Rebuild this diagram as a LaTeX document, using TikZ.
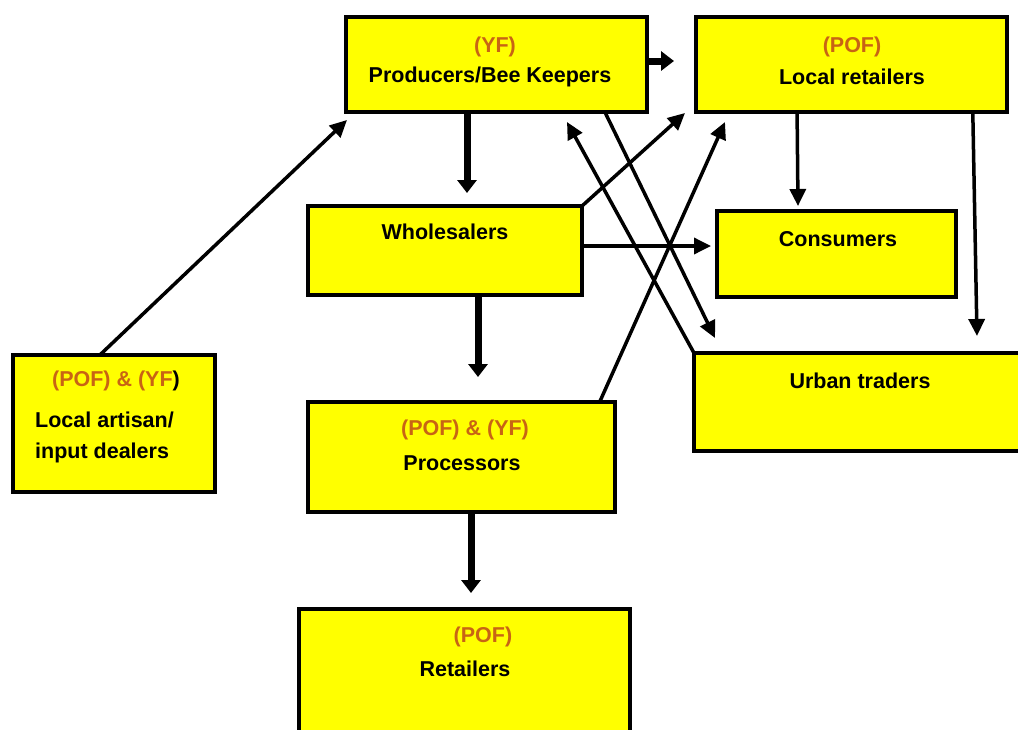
\documentclass[tikz,border=0pt]{standalone}
\usepackage{fontspec}
\setmainfont{Liberation Sans}
\usetikzlibrary{arrows.meta,calc}
\definecolor{tagorange}{RGB}{200,100,20}
\definecolor{boxyellow}{RGB}{255,255,0}

\begin{document}
\begin{tikzpicture}[x=1pt,y=-1pt,
  box/.style={draw=black, line width=4.5pt, fill=boxyellow, anchor=north west,
              inner sep=0pt, outer sep=0pt},
  lbl/.style={font=\bfseries\fontsize{21.5}{24}\selectfont, inner sep=0pt},
  tag/.style={lbl, text=tagorange},
  flow/.style={line width=3.5pt, -{Triangle[length=17pt,width=16pt]}},
  bigflow/.style={line width=7pt, -{Triangle[length=13pt,width=19pt]}}]

\clip (0,0) rectangle (1018,729);

% actors of the chain
\node[box, minimum width=301pt, minimum height=95pt]  (prod)   at (346,17)  {};
\node[box, minimum width=311pt, minimum height=95pt]  (locret) at (696,17)  {};
\node[box, minimum width=274pt, minimum height=89pt]  (whole)  at (308,206) {};
\node[box, minimum width=239pt, minimum height=86pt]  (cons)   at (717,211) {};
\node[box, minimum width=340pt, minimum height=98pt]  (urban)  at (694,353) {};
\node[box, minimum width=202pt, minimum height=137pt] (art)    at (13,355)  {};
\node[box, minimum width=307pt, minimum height=110pt] (proc)   at (308,402) {};
\node[box, minimum width=331pt, minimum height=140pt] (retail) at (299,609) {};

% labels
\node[tag] (prodtag)  at (495,47) {(YF)};
\node[lbl] (prodname) at (490,77) {Producers/Bee Keepers};
\node[tag] (locrettag)  at (852,47) {(POF)};
\node[lbl] (locretname) at (852,77) {Local retailers};
\node[lbl] (wholename) at (445,232) {Wholesalers};
\node[lbl] (consname)  at (838,239) {Consumers};
\node[lbl] (urbanname) at (860,381) {Urban traders};
\node[lbl] (arttag) at (116,381) {\textcolor{tagorange}{(POF) \& (YF}\textcolor{black}{)}};
\node[lbl, anchor=west] (artname1) at (35,420) {Local artisan/};
\node[lbl, anchor=west] (artname2) at (35,453) {input dealers};
\node[tag] (proctag)  at (465,430) {(POF) \& (YF)};
\node[lbl] (procname) at (462,463) {Processors};
\node[tag] (retailtag)  at (483,637) {(POF)};
\node[lbl] (retailname) at (465,669) {Retailers};

% arrow tips
\coordinate (t1)  at (674,61);
\coordinate (t2)  at (467,193);
\coordinate (t3)  at (478,377);
\coordinate (t4)  at (471,593);
\coordinate (t5)  at (347,120);
\coordinate (t6)  at (685,113);
\coordinate (t7)  at (711,246);
\coordinate (t8)  at (715,338);
\coordinate (t9)  at (567,122);
\coordinate (t10) at (725,122);
\coordinate (t11) at (798,206);
\coordinate (t12) at (977,336);

% main flows
\draw[bigflow] (prod.east |- t1) -- (t1);
\draw[bigflow] (prod.south -| t2) -- (t2);
\draw[bigflow] (whole.south -| t3) -- (t3);
\draw[bigflow] (proc.south -| t4) -- (t4);

% other flows
\draw[flow] ($(art.north west)!0.43!(art.north east)$) -- (t5);
\draw[flow] (whole.north east) -- (t6);
\draw[flow] (whole.east |- t7) -- (t7);
\draw[flow] ($(prod.south west)!0.86!(prod.south east)$) -- (t8);
\draw[flow] (urban.north west) -- (t9);
\draw[flow] ($(proc.north west)!0.95!(proc.north east)$) -- (t10);
\draw[flow] ($(locret.south west)!0.325!(locret.south east)$) -- (t11);
\draw[flow] ($(locret.south west)!0.89!(locret.south east)$) -- (t12);
\end{tikzpicture}
\end{document}
